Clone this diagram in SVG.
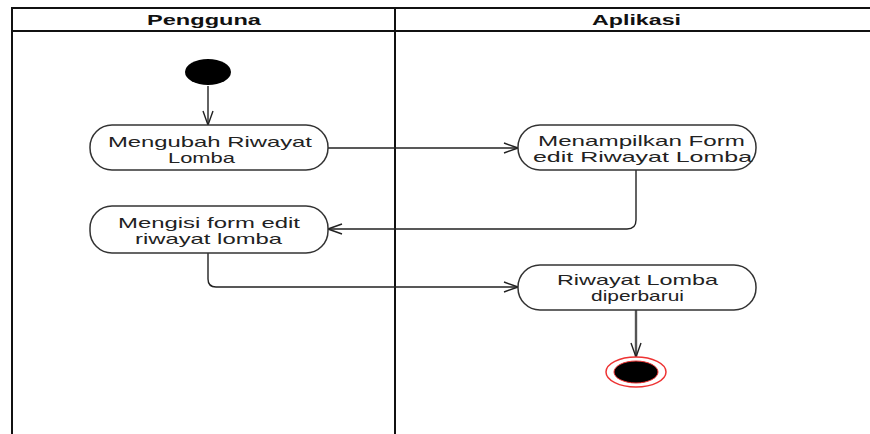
<svg xmlns="http://www.w3.org/2000/svg" width="870" height="434" viewBox="0 0 870 434">
  <defs>
    <style>
      .lane { fill: none; stroke: #111; stroke-width: 2; }
      .head { font-family: "Liberation Sans", Arial, sans-serif; font-size: 15px; font-weight: bold; fill: #111; }
      .act rect { fill: #fff; stroke: #333; stroke-width: 1.5; }
      .act text { font-family: "Liberation Sans", Arial, sans-serif; font-size: 15px; fill: #222; }
      .flow { fill: none; stroke: #222; stroke-width: 1.4; marker-end: url(#open); }
    </style>
    <marker id="open" viewBox="0 0 16 12" refX="15" refY="6" markerWidth="16" markerHeight="12" markerUnits="userSpaceOnUse" orient="auto">
      <path d="M1,1 L15,6 L1,11" fill="none" stroke="#222" stroke-width="1.4"/>
    </marker>
  </defs>

  <!-- swimlanes -->
  <g id="lanes">
    <path class="lane" d="M872,8 H12 V434"/>
    <path class="lane" d="M12,31 H872"/>
    <path class="lane" d="M395,8 V434"/>
    <text class="head" x="147" y="25" textLength="114" lengthAdjust="spacingAndGlyphs">Pengguna</text>
    <text class="head" x="592" y="25" textLength="89" lengthAdjust="spacingAndGlyphs">Aplikasi</text>
  </g>

  <!-- connectors -->
  <g id="connectors">
    <path class="flow" d="M208,86 V125"/>
    <path class="flow" d="M328,148 H518"/>
    <path class="flow" d="M636,170 V220 Q636,229 627,229 H328"/>
    <path class="flow" d="M208,253 V279 Q208,287 216,287 H518"/>
    <path class="flow" d="M636,310 V357" style="stroke:#555;stroke-width:2.4"/>
  </g>

  <!-- start -->
  <g id="start">
    <ellipse cx="208" cy="72" rx="23" ry="13" fill="#000"/>
  </g>

  <g id="mengubah" class="act">
    <rect x="90" y="125" width="238" height="45" rx="22" ry="22"/>
    <text x="108" y="147" textLength="204" lengthAdjust="spacingAndGlyphs">Mengubah Riwayat</text>
    <text x="168" y="163" textLength="67" lengthAdjust="spacingAndGlyphs">Lomba</text>
  </g>

  <g id="menampilkan" class="act">
    <rect x="518" y="125" width="238" height="45" rx="22" ry="22"/>
    <text x="538" y="146" textLength="207" lengthAdjust="spacingAndGlyphs">Menampilkan Form</text>
    <text x="533" y="162" textLength="219" lengthAdjust="spacingAndGlyphs">edit Riwayat Lomba</text>
  </g>

  <g id="mengisi" class="act">
    <rect x="90" y="206" width="238" height="47" rx="22" ry="22"/>
    <text x="118" y="228" textLength="182" lengthAdjust="spacingAndGlyphs">Mengisi form edit</text>
    <text x="135" y="244" textLength="147" lengthAdjust="spacingAndGlyphs">riwayat lomba</text>
  </g>

  <g id="diperbarui" class="act">
    <rect x="518" y="265" width="238" height="45" rx="22" ry="22"/>
    <text x="557" y="285" textLength="161" lengthAdjust="spacingAndGlyphs">Riwayat Lomba</text>
    <text x="591" y="301" textLength="93" lengthAdjust="spacingAndGlyphs">diperbarui</text>
  </g>

  <!-- end -->
  <g id="end">
    <ellipse cx="636" cy="372" rx="30" ry="15" fill="#fff" stroke="#e33" stroke-width="1.5"/>
    <ellipse cx="636" cy="372" rx="22" ry="11" fill="#000" stroke="#e33" stroke-width="1"/>
  </g>
</svg>
